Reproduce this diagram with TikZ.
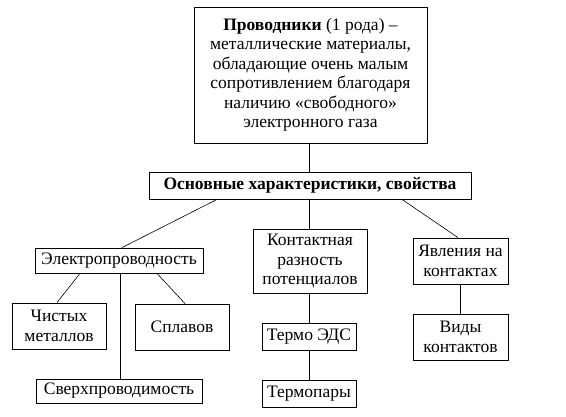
\documentclass[tikz,border=0pt]{standalone}
\usepackage{fontspec}
\setmainfont{Liberation Serif}
\begin{document}
\begin{tikzpicture}[x=1pt,y=-1pt,
  box/.style={draw,line width=0.8pt,align=center,inner sep=0pt,font=\fontsize{17.5}{19.5}\selectfont},
  ln/.style={line width=0.6pt}]
\useasboundingbox (0,0) rectangle (566,417);
\node[box,minimum width=233,minimum height=136] (top) at (310.5,75) {\textbf{Проводники} (1 рода) –\\металлические материалы,\\обладающие очень малым\\сопротивлением благодаря\\наличию «свободного»\\электронного газа};
\node[box,minimum width=322,minimum height=27] (ch) at (310,185.5) {\textbf{Основные характеристики, свойства}};
\node[box,minimum width=168,minimum height=25] (el) at (119,260.5) {Электропроводность};
\node[box,minimum width=94,minimum height=46] (ch1) at (59,326) {Чистых\\металлов};
\node[box,minimum width=94,minimum height=46] (spl) at (182,327) {Сплавов};
\node[box,minimum width=166,minimum height=24] (sv) at (119,391) {Сверхпроводимость};
\node[box,minimum width=114,minimum height=64] (kr) at (310,261) {Контактная\\разность\\потенциалов};
\node[box,minimum width=94,minimum height=27] (te) at (309,336.5) {Термо ЭДС};
\node[box,minimum width=94,minimum height=27] (tp) at (309,393.5) {Термопары};
\node[box,minimum width=95,minimum height=46] (yv) at (460.5,261) {Явления на\\контактах};
\node[box,minimum width=95,minimum height=46] (vk) at (460.5,337) {Виды\\контактов};
\draw[ln] (top.south -| 309,0) -- (ch.north -| 309,0);
\draw[ln] (ch.south -| 217,0) -- (el.north -| 122,0);
\draw[ln] (ch.south -| 309,0) -- (kr.north -| 309,0);
\draw[ln] (ch.south -| 402,0) -- (yv.north -| 458,0);
\draw[ln] (el.south -| 80,0) -- (ch1.north -| 57,0);
\draw[ln] (el.south -| 157,0) -- (spl.north -| 185,0);
\draw[ln] (el.south -| 120,0) -- (sv.north -| 120,0);
\draw[ln] (kr.south -| 309,0) -- (te.north -| 309,0);
\draw[ln] (te.south) -- (tp.north);
\draw[ln] (yv.south) -- (vk.north);
\end{tikzpicture}
\end{document}
